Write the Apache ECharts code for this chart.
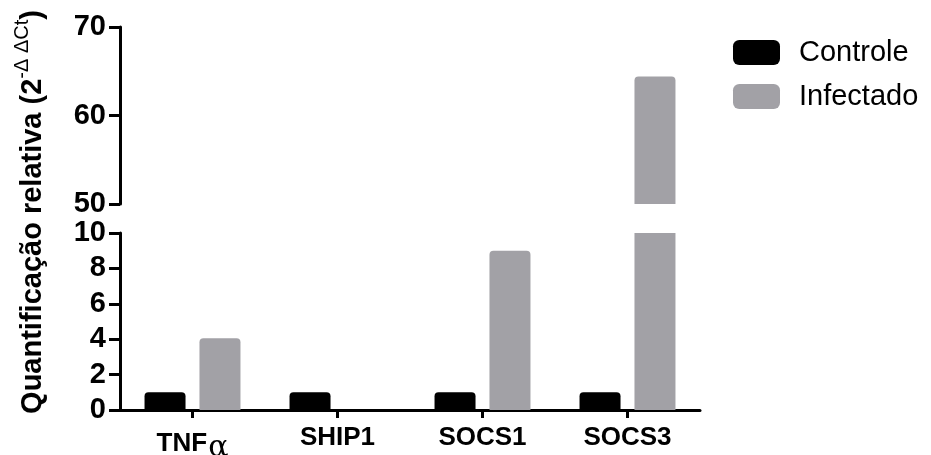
<!DOCTYPE html>
<html>
<head>
<meta charset="utf-8">
<script src="https://cdn.jsdelivr.net/npm/echarts@6/dist/echarts.min.js"></script>
<style>
  html, body { margin: 0; padding: 0; background: #fff; }
  #chart { width: 931px; height: 455px; }
</style>
</head>
<body>
<div id="chart"></div>
<script>
// Relative expression (2^-ΔΔCt), broken y axis: 0–10 below, 50–70 above
const categories = ['TNFα', 'SHIP1', 'SOCS1', 'SOCS3'];
const controle = [1, 1, 1, 1];
const infectado = [4.05, 0, 9.0, 64.4];
const lowerTicks = [0, 10, 2];   // min, max, step
const upperTicks = [50, 70, 10]; // min, max, step

const FONT = '"Liberation Sans", Arial, Helvetica, sans-serif';
const BLACK = '#000';
const GREY = '#a2a1a6';
const RADIUS = [4, 4, 0, 0];

// Lower segment: bars running past the break are cut flat at the top
const belowBreak = arr => arr.map(v => (v > lowerTicks[1] ? { value: v, itemStyle: { borderRadius: 0 } } : v));
// Upper segment only carries the values that reach it
const aboveBreak = arr => arr.map(v => (v >= upperTicks[0] ? v : '-'));

const axisLine = { show: true, lineStyle: { color: BLACK, width: 3 } };
const yTick = { show: true, length: 11, lineStyle: { color: BLACK, width: 3 } };
const yLabel = { color: BLACK, fontFamily: FONT, fontWeight: 'bold', fontSize: 29, margin: 14 };

const chart = echarts.init(document.getElementById('chart'), null, { renderer: 'canvas' });

chart.setOption({
  animation: false,
  backgroundColor: '#fff',
  grid: [
    { left: 120, right: 231, top: 233, bottom: 45, outerBoundsMode: 'none', containLabel: false },   // 0–10
    { left: 120, right: 231, top: 27, height: 177, outerBoundsMode: 'none', containLabel: false }     // 50–70
  ],
  legend: {
    data: ['Controle', 'Infectado'],
    orient: 'vertical',
    left: 728,
    top: 33,
    itemWidth: 47,
    itemHeight: 25,
    itemGap: 15,
    icon: 'roundRect',
    textStyle: { color: BLACK, fontFamily: FONT, fontSize: 29, padding: [0, 0, 0, 14] }
  },
  xAxis: [
    {
      gridIndex: 0,
      type: 'category',
      data: categories,
      axisLine: axisLine,
      axisTick: { show: true, alignWithLabel: true, length: 8, lineStyle: { color: BLACK, width: 3 } },
      axisLabel: {
        margin: 15,
        formatter: v => (v === 'TNFα' ? '{b|TNF}{g|α}' : '{b|' + v + '}'),
        rich: {
          b: { color: BLACK, fontFamily: FONT, fontWeight: 'bold', fontSize: 26 },
          g: { color: BLACK, fontFamily: '"DejaVu Serif", "Liberation Serif", serif', fontSize: 30, padding: [8, 0, 0, 1] }
        }
      }
    },
    {
      gridIndex: 1,
      type: 'category',
      data: categories,
      show: false
    }
  ],
  yAxis: [
    {
      gridIndex: 0,
      type: 'value',
      min: lowerTicks[0], max: lowerTicks[1], interval: lowerTicks[2],
      axisLine: axisLine,
      axisTick: yTick,
      splitLine: { show: false },
      axisLabel: yLabel
    },
    {
      gridIndex: 1,
      type: 'value',
      min: upperTicks[0], max: upperTicks[1], interval: upperTicks[2],
      axisLine: axisLine,
      axisTick: yTick,
      splitLine: { show: false },
      axisLabel: yLabel
    }
  ],
  series: [
    {
      name: 'Controle', type: 'bar', xAxisIndex: 0, yAxisIndex: 0,
      data: belowBreak(controle), barWidth: 41, barGap: '34%',
      itemStyle: { color: BLACK, borderRadius: RADIUS }
    },
    {
      name: 'Infectado', type: 'bar', xAxisIndex: 0, yAxisIndex: 0,
      data: belowBreak(infectado), barWidth: 41, barGap: '34%',
      itemStyle: { color: GREY, borderRadius: RADIUS }
    },
    {
      name: 'Controle', type: 'bar', xAxisIndex: 1, yAxisIndex: 1,
      data: aboveBreak(controle), barWidth: 41, barGap: '34%',
      itemStyle: { color: BLACK, borderRadius: RADIUS }
    },
    {
      name: 'Infectado', type: 'bar', xAxisIndex: 1, yAxisIndex: 1,
      data: aboveBreak(infectado), barWidth: 41, barGap: '34%',
      itemStyle: { color: GREY, borderRadius: RADIUS }
    }
  ],
  graphic: [
    {
      type: 'text',
      x: 30,
      y: 212,
      rotation: Math.PI / 2,
      style: {
        text: '{m|Quantificação relativa (2}{s|-Δ ΔCt}{m|)}',
        align: 'center',
        verticalAlign: 'middle',
        rich: {
          m: { fill: BLACK, fontFamily: FONT, fontWeight: 'bold', fontSize: 29, verticalAlign: 'bottom', lineHeight: 35 },
          s: { fill: BLACK, fontFamily: FONT, fontSize: 20, verticalAlign: 'top', lineHeight: 35 }
        }
      }
    }
  ]
});
</script>
</body>
</html>
